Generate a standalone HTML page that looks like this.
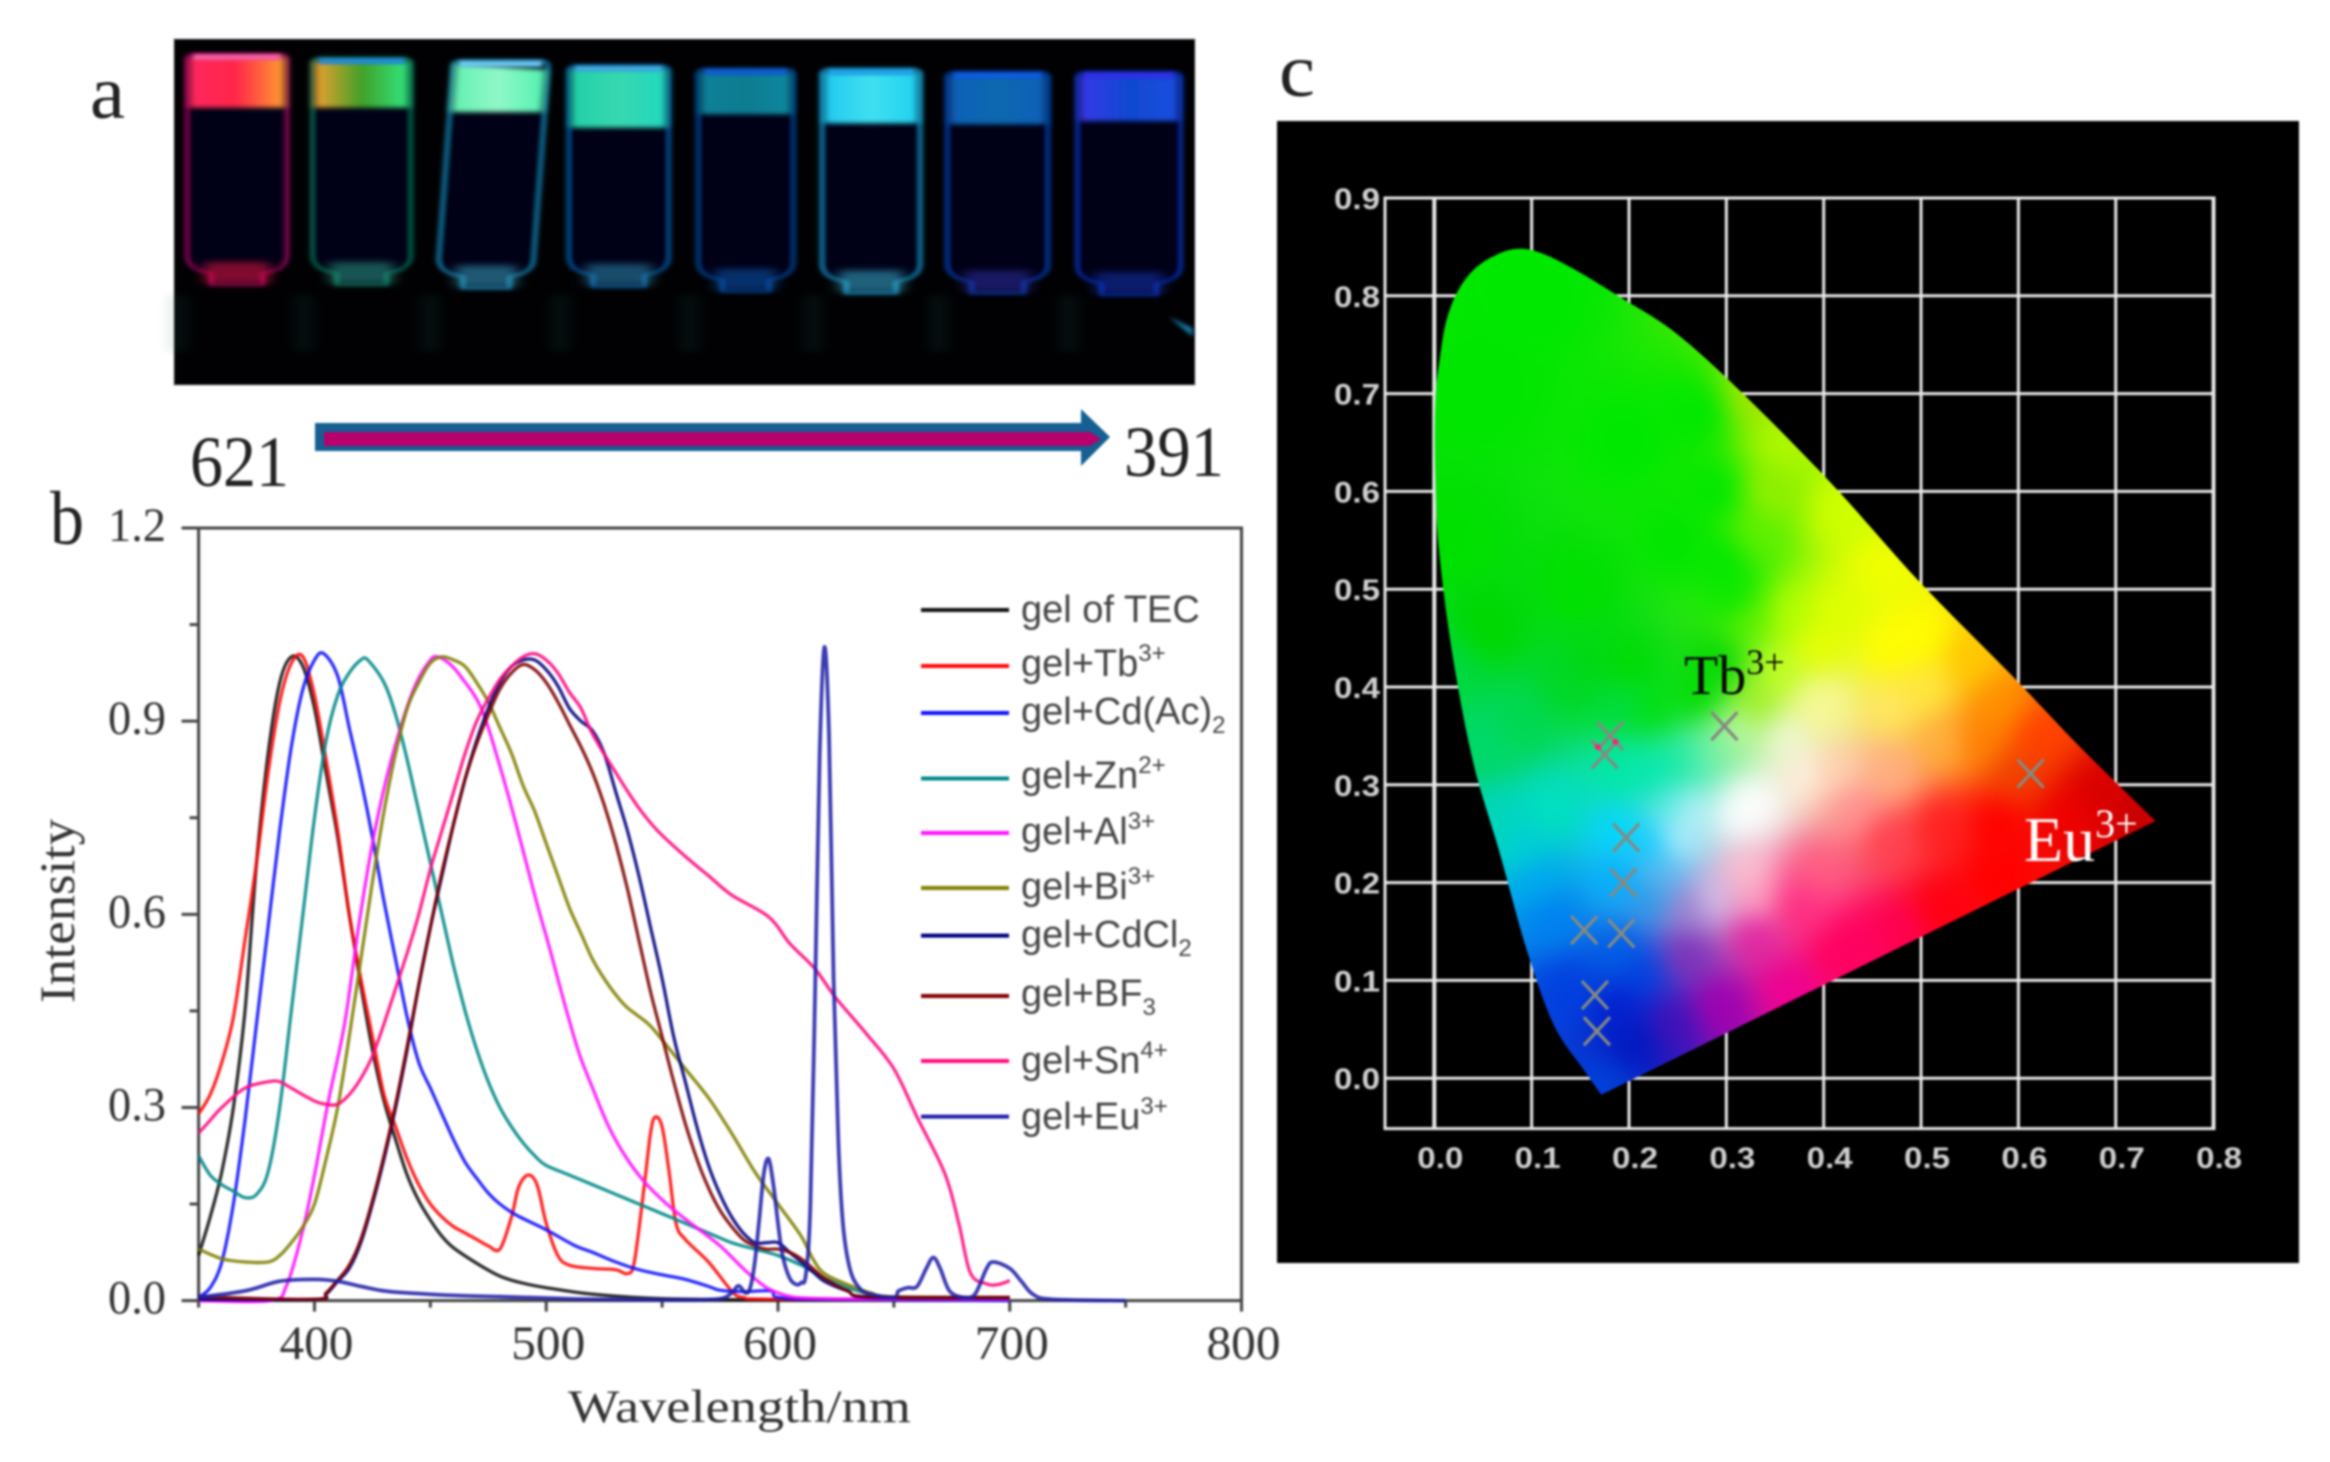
<!DOCTYPE html>
<html><head><meta charset="utf-8"><title>Gel luminescence figure</title>
<style>
html,body{margin:0;padding:0;background:#fff;width:2330px;height:1462px;overflow:hidden}
svg{display:block;filter:blur(1px)}
.ti{font-family:"Liberation Serif",serif}
.sa{font-family:"Liberation Sans",sans-serif}
canvas{display:block;width:820px;height:960px;filter:blur(9px)}
</style></head>
<body>
<svg id="fig" xmlns="http://www.w3.org/2000/svg" width="2330" height="1462" viewBox="0 0 2330 1462">
<defs>
<filter id="b2" x="-30%" y="-30%" width="160%" height="160%"><feGaussianBlur stdDeviation="3 5"/></filter>
<filter id="b4" x="-30%" y="-30%" width="160%" height="160%"><feGaussianBlur stdDeviation="5 7"/></filter>
<filter id="b6" x="-50%" y="-50%" width="200%" height="200%"><feGaussianBlur stdDeviation="8 10"/></filter>
<clipPath id="gamutClip"><path id="gamutPath" d="M0 0"/></clipPath>
</defs>

<rect width="2330" height="1462" fill="#fff"/>

<!-- PANEL A -->
<text class="ti" x="90" y="118" font-size="76" fill="#222" textLength="35" lengthAdjust="spacingAndGlyphs">a</text>
<rect x="174" y="39" width="1021" height="346" fill="#010103" stroke="#999" stroke-width="1"/>
<g id="vials" transform="scale(0.8036 0.3317)"></g>
<text class="ti" x="190" y="486" font-size="72" fill="#222" textLength="99" lengthAdjust="spacingAndGlyphs">621</text>
<polygon points="315,423 1081,423 1081,409 1110,437 1081,466 1081,451 315,451" fill="#155f92"/>
<polygon points="324,432 1090,432 1101,439 1090,446 324,446" fill="#b8006c"/>
<text class="ti" x="1124" y="476" font-size="72" fill="#222" textLength="100" lengthAdjust="spacingAndGlyphs">391</text>

<!-- PANEL B -->
<text class="ti" x="50" y="544" font-size="76" fill="#222" textLength="34" lengthAdjust="spacingAndGlyphs">b</text>
<g id="plotB"></g>
<text class="ti" transform="translate(74 1003) rotate(-90)" font-size="50" fill="#333" textLength="184" lengthAdjust="spacingAndGlyphs">Intensity</text>
<text class="ti" x="568" y="1422" font-size="47" fill="#333" textLength="343" lengthAdjust="spacingAndGlyphs">Wavelength/nm</text>

<g id="legend" class="sa" font-size="38" fill="#444">
<text x="1021" y="622">gel of TEC</text>
<text x="1021" y="676">gel+Tb<tspan dy="-15" font-size="24">3+</tspan></text>
<text x="1021" y="724">gel+Cd(Ac)<tspan dy="9" font-size="24">2</tspan></text>
<text x="1021" y="788">gel+Zn<tspan dy="-15" font-size="24">2+</tspan></text>
<text x="1021" y="844">gel+Al<tspan dy="-15" font-size="24">3+</tspan></text>
<text x="1021" y="899">gel+Bi<tspan dy="-15" font-size="24">3+</tspan></text>
<text x="1021" y="947">gel+CdCl<tspan dy="9" font-size="24">2</tspan></text>
<text x="1021" y="1006">gel+BF<tspan dy="9" font-size="24">3</tspan></text>
<text x="1021" y="1073">gel+Sn<tspan dy="-15" font-size="24">4+</tspan></text>
<text x="1021" y="1129">gel+Eu<tspan dy="-15" font-size="24">3+</tspan></text>
</g>

<!-- PANEL C -->
<text class="ti" x="1279" y="96" font-size="76" fill="#222" textLength="36" lengthAdjust="spacingAndGlyphs">c</text>
<rect x="1277" y="121" width="1022" height="1142" fill="#000"/>
<g id="cieGrid"></g>
<g clip-path="url(#gamutClip)">
 <foreignObject x="1385" y="180" width="820" height="960">
  <canvas id="cieField" xmlns="http://www.w3.org/1999/xhtml" width="410" height="480"></canvas>
 </foreignObject>
</g>
<g id="cieMarks"></g>
<text class="ti" x="1684" y="694" font-size="56" fill="#0a0a0a">Tb<tspan dy="-20" font-size="36">3+</tspan></text>
<text class="ti" x="2024" y="861" font-size="64" fill="#fff">Eu<tspan dy="-24" font-size="40">3+</tspan></text>
</svg>

<script>
// ---- Panel b data ----
const tecWl=[350,355,360,365,370,375,380,385,390,395,400,405,410,415,420,425,430,435,440,445,450,455,460,470,480,490,500,520,550,600,700];
const tecVal=[.07,.13,.2,.3,.45,.68,.85,.96,1,.985,.92,.82,.72,.6,.49,.39,.31,.25,.195,.155,.125,.1,.082,.058,.038,.027,.02,.01,.003,.001,.001];
const tbWl=[350,355,360,365,370,375,380,385,390,395,400,405,410,415,420,425,430,435,440,445,450,455,460,465,470,475,480,485,488,492,496,500,505,510,520,530,535,538,542,545,547,550,553,556,560,570,580,585,600,700];
const tbVal=[.29,.32,.37,.44,.56,.68,.82,.93,.99,1,.94,.84,.73,.6,.5,.41,.32,.27,.22,.18,.15,.13,.115,.105,.095,.085,.08,.13,.175,.195,.18,.12,.07,.055,.05,.048,.042,.06,.17,.26,.285,.27,.2,.12,.095,.06,.015,.005,.002,.002];
const cdacWl=[350,355,360,365,370,375,380,385,390,395,400,404,410,415,420,425,430,435,440,445,450,455,460,465,470,475,480,487,500,512,520,530,540,550,560,570,575,585,597,600,620,700];
const cdacVal=[.005,.02,.06,.15,.28,.43,.58,.73,.86,.95,.995,1.005,.97,.89,.81,.72,.62,.53,.44,.37,.33,.29,.25,.215,.19,.167,.15,.133,.11,.086,.075,.06,.048,.04,.033,.022,.016,.014,.015,.005,.002,0];
const znWl=[350,355,360,365,370,375,380,385,390,395,400,405,410,415,420,423,430,435,440,445,450,455,460,465,470,475,480,485,490,495,500,510,520,530,540,550,560,570,580,590,600,610,620,630,640,650,700];
const znVal=[.225,.195,.18,.17,.16,.165,.2,.3,.45,.6,.75,.87,.94,.975,.995,.995,.96,.91,.84,.76,.68,.6,.52,.45,.39,.34,.3,.27,.245,.225,.21,.195,.18,.165,.15,.135,.12,.105,.09,.08,.07,.055,.035,.02,.01,.005,.002];
const alWl=[350,381,388,395,400,406,413,419,425,431,438,444,450,453,458,463,472,480,487,495,502,508,514,520,527,534,542,552,561,575,588,600,620,700];
const alVal=[0,0,.024,.11,.195,.31,.43,.58,.71,.81,.9,.96,.995,1,.99,.97,.92,.83,.74,.63,.54,.46,.386,.33,.27,.225,.186,.15,.124,.085,.04,.012,.003,.002];
const biWl=[350,360,370,380,385,390,395,400,405,410,415,420,425,430,435,440,445,450,455,460,465,470,475,480,485,490,495,500,505,510,515,520,525,530,535,544,550,560,570,580,590,600,610,615,620,630,640,650,700];
const biVal=[.08,.065,.06,.06,.07,.09,.115,.15,.22,.3,.41,.53,.65,.76,.85,.92,.96,.99,1,.995,.985,.96,.93,.89,.85,.8,.76,.71,.66,.61,.57,.53,.5,.475,.455,.43,.405,.36,.315,.26,.2,.15,.1,.065,.042,.025,.012,.006,.005];
const cdclWl=[350,400,405,410,415,420,425,430,435,440,445,450,455,460,465,470,475,480,485,490,495,500,505,510,515,520,525,530,535,540,545,550,555,560,565,570,575,580,585,590,595,600,605,610,615,620,630,640,700];
const cdclVal=[.002,.002,.01,.03,.05,.09,.15,.22,.3,.39,.49,.58,.66,.74,.81,.87,.92,.96,.985,.995,.995,.98,.955,.92,.9,.885,.85,.79,.73,.66,.58,.5,.41,.34,.27,.21,.165,.13,.105,.09,.09,.09,.075,.06,.045,.03,.015,.005,.004];
const bfWl=[350,400,405,410,415,420,425,430,435,440,445,450,455,460,465,470,475,480,485,490,495,500,505,510,515,520,525,530,535,540,545,550,555,560,565,570,575,580,585,590,595,600,605,610,615,620,630,640,700];
const bfVal=[.006,.002,.012,.032,.055,.095,.155,.225,.305,.395,.49,.58,.665,.74,.81,.865,.91,.95,.975,.988,.98,.96,.93,.895,.86,.82,.77,.71,.64,.56,.48,.41,.34,.275,.22,.175,.14,.115,.095,.085,.08,.08,.075,.065,.05,.035,.015,.006,.005];
const snWl=[350,355,360,370,380,385,390,400,405,410,415,420,425,430,440,445,450,455,460,465,470,475,480,485,490,495,500,505,510,515,520,530,540,548,560,570,580,596,605,616,625,638,650,660,672,678,683,690,695,700];
const snVal=[.26,.28,.3,.33,.34,.34,.33,.31,.305,.305,.32,.345,.38,.43,.54,.6,.67,.73,.79,.85,.9,.935,.965,.985,1,1.005,.995,.975,.945,.92,.88,.82,.765,.73,.69,.66,.63,.596,.555,.515,.47,.415,.36,.285,.197,.12,.043,.026,.025,.031];
const euWl=[350,370,385,400,410,420,430,440,460,480,500,520,560,575,580,583,586,588,590,592,594,596,598,600,602,605,608,610,612,614,616,618,620,622,624,626,628,631,635,640,650,652,656,660,664,667,670,674,680,685,690,693,700,705,710,718,750];
const euVal=[.005,.015,.03,.033,.03,.022,.015,.012,.008,.006,.004,.002,.001,.003,.012,.023,.012,.02,.06,.13,.2,.22,.18,.12,.07,.035,.025,.028,.04,.15,.48,.85,1.015,.88,.5,.25,.12,.05,.02,.01,.005,.015,.02,.022,.05,.067,.05,.015,.005,.01,.05,.06,.05,.03,.01,.002,0];
const seriesNames=['tec','tb','cdac','zn','al','bi','cdcl','bf','sn','eu'];
const seriesColors=['#111','#ff0808','#1010ff','#008888','#ff10ff','#808000','#000080','#800000','#ff0a80','#2020a8'];
const xTicks=[400,500,600,700,800];
const xMinor=[350,450,550,650,750];
const yTicks=[0,0.3,0.6,0.9,1.2];
const yMinor=[0.15,0.45,0.75,1.05];
const legendRows=[610,666,713,778.5,833,888,935.6,996,1061,1116.6];
// ---- Panel c data ----
const gamutX=[.1715,.154,.123,.095,.067,.04,.019,.005,.001,.001,.006,.013,.026,.043,.064,.085,.109,.144,.192,.248,.317,.408,.498,.595,.665,.741];
const gamutY=[-.017,.008,.054,.131,.231,.323,.431,.538,.615,.692,.738,.777,.808,.829,.842,.848,.844,.827,.798,.762,.70,.608,.508,.41,.337,.263];
const cieXTicks=[0,.1,.2,.3,.4,.5,.6,.7,.8];
const cieYTicks=[0,.1,.2,.3,.4,.5,.6,.7,.8,.9];
const pointX=[.1806,.175,.298,.6125,.197,.194,.154,.192,.165,.167];
const pointY=[.35,.331,.36,.3115,.246,.2,.1515,.148,.085,.048];
const dotX=[.168,.186];
const dotY=[.3386,.344];
const gamutColors=[
[.05,.7,'#00e600'],[.1,.8,'#00e800'],[.2,.65,'#00e800'],[.25,.55,'#00e600'],[.15,.5,'#00e000'],[.054,.457,'#00d800'],[.02,.55,'#00e000'],
[.27,.68,'#00e800'],[.29,.6,'#00e800'],[.3,.53,'#00e800'],[.312,.493,'#00e800'],[.29,.42,'#00d800'],[.27,.39,'#00dc00'],
[.2,.42,'#00dc00'],[.157,.42,'#00d810'],[.14,.406,'#00d828'],[.088,.366,'#00d850'],[.054,.347,'#00d868'],[.02,.42,'#00d840'],
[.191,.384,'#00dc40'],[.225,.377,'#00e010'],[.191,.311,'#00e8a8'],[.225,.311,'#00e8b0'],[.253,.322,'#00e8a0'],[.266,.325,'#60f0b0'],[.122,.274,'#00e0c0'],[.065,.25,'#00d8b8'],
[.191,.252,'#00d8ff'],[.225,.238,'#00c8ff'],[.088,.238,'#00d0d8'],[.105,.201,'#00a8f0'],[.191,.201,'#00b0ff'],[.218,.183,'#3098e8'],
[.122,.165,'#0080f0'],[.191,.128,'#0060e8'],[.14,.092,'#0040e0'],[.191,.073,'#0020d0'],[.208,.037,'#0018c0'],[.171,-.011,'#0040d8'],[.21,.107,'#0040e0'],
[.243,.055,'#4010b8'],[.294,.073,'#a000b0'],[.363,.092,'#f00090'],[.414,.128,'#ff0060'],[.26,.128,'#8030b8'],[.329,.146,'#e020a0'],[.379,.183,'#ff4090'],[.329,.183,'#ffa0c0'],[.288,.183,'#d8c0e8'],[.26,.172,'#a080d0'],
[.23,.21,'#60b8f0'],[.248,.244,'#c0f0ff'],[.26,.275,'#d8f4ff'],[.248,.28,'#40e8e0'],[.314,.271,'#ffffff'],[.329,.282,'#ffffff'],[.379,.311,'#fff0e0'],[.363,.347,'#f0f8d8'],[.312,.354,'#c0f8a0'],[.295,.339,'#80f0a0'],[.329,.384,'#a0f020'],[.397,.384,'#f8f890'],
[.329,.475,'#60f000'],[.363,.475,'#b8ff00'],[.414,.475,'#e0ff00'],[.33,.554,'#60f000'],[.345,.6,'#90f000'],[.33,.7,'#a0e800'],[.36,.65,'#b0f800'],[.42,.58,'#d0ff00'],[.46,.52,'#f0ff00'],
[.358,.414,'#c0ff20'],[.394,.438,'#e8ff00'],[.468,.438,'#ffff00'],[.5,.45,'#ffff00'],[.394,.38,'#f8f8a0'],[.468,.38,'#ffe860'],[.505,.397,'#ffe840'],[.55,.43,'#ffc800'],
[.523,.346,'#ffb040'],[.56,.346,'#ff8000'],[.58,.38,'#ff9000'],[.62,.35,'#ff4000'],[.6,.31,'#f04000'],[.68,.29,'#d80000'],[.73,.265,'#c80000'],[.65,.27,'#f00000'],
[.468,.312,'#ffb080'],[.431,.277,'#ff9090'],[.413,.312,'#ffd0b0'],[.468,.244,'#ff4050'],[.522,.257,'#ff2020'],[.578,.26,'#ff0000'],[.578,.21,'#ff0000'],[.522,.175,'#ff0010'],[.475,.152,'#ff0050'],
[.431,.141,'#ff0060'],[.376,.175,'#ff2078'],[.321,.21,'#ffc0d0'],[.394,.21,'#ff6080']];

// axis functions
const xB=v=>198.6+(v-350)*2.3176;
const yB=v=>1300.6-v*643.8;
const xC=v=>1434.3+v*973.5;
const yC=v=>1078.2-v*978;
const NS='http://www.w3.org/2000/svg';
function mk(tag,attrs,parent){const e=document.createElementNS(NS,tag);for(const k in attrs)e.setAttribute(k,attrs[k]);parent.appendChild(e);return e;}

function smoothPts(p){
  let d='M'+p[0][0].toFixed(1)+' '+p[0][1].toFixed(1);
  for(let i=0;i<p.length-1;i++){
    const a=p[Math.max(i-1,0)],b=p[i],c=p[i+1],e=p[Math.min(i+2,p.length-1)];
    const c1=[b[0]+(c[0]-a[0])/6,b[1]+(c[1]-a[1])/6],c2=[c[0]-(e[0]-b[0])/6,c[1]-(e[1]-b[1])/6];
    d+='C'+c1[0].toFixed(1)+' '+c1[1].toFixed(1)+' '+c2[0].toFixed(1)+' '+c2[1].toFixed(1)+' '+c[0].toFixed(1)+' '+c[1].toFixed(1);
  }
  return d;
}
const smooth=(wl,val)=>smoothPts(wl.map((w,i)=>[xB(w),yB(val[i])]));

// Panel b
const plotB=document.getElementById('plotB');
const frame=mk('rect',{x:xB(350),y:yB(1.2),width:xB(800)-xB(350),height:yB(0)-yB(1.2),fill:'none',stroke:'#444','stroke-width':3},plotB);


xTicks.forEach(t=>{
  const l=mk('line',{x1:xB(t),x2:xB(t),y1:yB(0),y2:yB(0)+11,stroke:'#444','stroke-width':3},plotB);
  
  
  const s=mk('text',{x:xB(t)+2,y:1359,'text-anchor':'middle','font-size':48,fill:'#333',class:'ti',textLength:74,lengthAdjust:'spacingAndGlyphs'},plotB);
  s.textContent=String(t);
  
  
});
xMinor.forEach(t=>{
  const l=mk('line',{x1:xB(t),x2:xB(t),y1:yB(0),y2:yB(0)+7,stroke:'#444','stroke-width':3},plotB);
  
  
});
yTicks.forEach(t=>{
  const l=mk('line',{x1:xB(350)-17,x2:xB(350),y1:yB(t),y2:yB(t),stroke:'#444','stroke-width':3},plotB);
  
  
  const s=mk('text',{x:108,y:yB(t)+13,'font-size':48,fill:'#333',class:'ti',textLength:58,lengthAdjust:'spacingAndGlyphs'},plotB);
  s.textContent=t.toFixed(1);
  
  
});
yMinor.forEach(t=>{
  const l=mk('line',{x1:xB(350)-9,x2:xB(350),y1:yB(t),y2:yB(t),stroke:'#444','stroke-width':3},plotB);
  
  
});
const seriesWl=[tecWl,tbWl,cdacWl,znWl,alWl,biWl,cdclWl,bfWl,snWl,euWl];
const seriesVal=[tecVal,tbVal,cdacVal,znVal,alVal,biVal,cdclVal,bfVal,snVal,euVal];
seriesNames.forEach((n,i)=>{
  const p=mk('path',{d:smooth(seriesWl[i],seriesVal[i]),fill:'none',stroke:seriesColors[i],'stroke-width':n==='eu'?3.8:3.3,'stroke-linejoin':'round','stroke-opacity':.88},plotB);
  
  
  const k=mk('line',{x1:921,x2:1009,y1:legendRows[i],y2:legendRows[i],stroke:seriesColors[i],'stroke-width':4},plotB);
  
  
});

// Panel c
document.getElementById('gamutPath').setAttribute('d',smoothPts(gamutX.map((x,i)=>[xC(x),yC(gamutY[i])]))+'Z');
const grid=document.getElementById('cieGrid');
const gx0=1385,gx1=2214,gy0=198,gy1=1128.6;
cieXTicks.forEach(t=>{
  const l=mk('line',{x1:xC(t),x2:xC(t),y1:gy0,y2:gy1,stroke:'#e8e8e8','stroke-width':t===0?4:3},grid);
  
  
  const s=mk('text',{x:xC(t)+6,y:1168,'text-anchor':'middle','font-size':30,'font-weight':'bold',fill:'#d0d0d0',class:'sa',textLength:46,lengthAdjust:'spacingAndGlyphs'},grid);
  s.textContent=t.toFixed(1);
  
  
});
cieYTicks.forEach(t=>{
  const l=mk('line',{x1:gx0,x2:gx1,y1:yC(t),y2:yC(t),stroke:'#e8e8e8','stroke-width':3},grid);
  
  
  const s=mk('text',{x:1334,y:yC(t)+11,'font-size':30,'font-weight':'bold',fill:'#d0d0d0',class:'sa',textLength:46,lengthAdjust:'spacingAndGlyphs'},grid);
  s.textContent=t.toFixed(1);
  
  
});
const gl=mk('rect',{x:gx0,y:gy0,width:gx1-gx0,height:gy1-gy0,fill:'none',stroke:'#e8e8e8','stroke-width':3},grid);



// colour field of the gamut: smooth blend between colours sampled at chromaticity positions
(function(){
  const c=document.getElementById('cieField'),ctx=c.getContext('2d');
  const W=c.width,H=c.height,img=ctx.createImageData(W,H);
  const a=gamutColors.map(r=>[r[0],r[1],parseInt(r[2].slice(1,3),16),parseInt(r[2].slice(3,5),16),parseInt(r[2].slice(5,7),16)]);
  for(let j=0;j<H;j++)for(let i=0;i<W;i++){
    const px=1385+(i+.5)*2,py=180+(j+.5)*2;
    const x=(px-1434.3)/973.5,y=(1078.2-py)/978;
    let sw=0,r=0,g=0,b=0;
    for(let k=0;k<a.length;k++){
      const dx=x-a[k][0],dy=y-a[k][1],d2=dx*dx+dy*dy+4e-4;
      const w=1/(d2*d2);
      sw+=w;r+=w*a[k][2];g+=w*a[k][3];b+=w*a[k][4];
    }
    const o=(j*W+i)*4;
    img.data[o]=r/sw;img.data[o+1]=g/sw;img.data[o+2]=b/sw;img.data[o+3]=255;
  }
  ctx.putImageData(img,0,0);
})();

const marks=document.getElementById('cieMarks');
pointX.forEach((x,i)=>{
  const cx=xC(x),cy=yC(pointY[i]);
  const m=mk('path',{d:`M${cx-13} ${cy-14}L${cx+13} ${cy+14}M${cx+13} ${cy-14}L${cx-13} ${cy+14}`,stroke:'#858a82','stroke-width':3.2,fill:'none'},marks);
  
  
});
dotX.forEach((x,i)=>{
  const d=mk('circle',{cx:xC(x),cy:yC(dotY[i]),r:3,fill:'#ff2080'},marks);
  
  
});

// Panel a vial photo (drawing coords are scaled by the group transform)
const vialLeft=[232,388,545,707,868,1022,1178,1340];
const vialRight=[358,512,665,833,988,1146,1305,1470];
const vialTilt=[0,0,18,0,0,0,0,0];
const vialTop=[160,172,180,195,205,205,215,215];
const vialGlow=[325,325,338,385,345,372,375,365];
const vialBottom=[860,860,870,865,880,885,885,890];
const vialBand=['#ff60a8','#2090e0','#70d0ff','#40b0e8','#1060d8','#20a8f0','#0860e8','#3030f0'];
const vialGlowL=['#ff2860','#f0a030','#60f0b0','#20d0a8','#108098','#20c8f0','#0a60b8','#3838e8'];
const vialGlowC=['#ff2848','#40a028','#90f8c8','#38d8b0','#107c90','#40e0f0','#0a68b0','#1048d0'];
const vialGlowR=['#ffa030','#30e880','#50f0b0','#20d8c0','#1088a0','#20d0f0','#0a60b8','#1850e0'];
const vialEdge=['#901060','#0c6c58','#1880b0','#0c5aa8','#0a4498','#1688c0','#0840b0','#1030b8'];
const vialNeck=['#ff1848','#30a890','#40b0d0','#3098c0','#1060c0','#40c0e0','#3030b0','#1838c0'];
const vg=document.getElementById('vials');
const defs=document.querySelector('defs');
vialLeft.forEach((l,i)=>{
  const r=vialRight[i],t=vialTilt[i],top=vialTop[i],bot=vialBottom[i],gb=vialGlow[i];
  const body=`M${l+t} ${top+20}Q${l+t} ${top} ${l+t+15} ${top}L${r+t-15} ${top}Q${r+t} ${top} ${r+t} ${top+20}L${r} ${bot-90}Q${r} ${bot-45} ${r-30} ${bot-35}L${r-30} ${bot}L${l+30} ${bot}L${l+30} ${bot-35}Q${l} ${bot-45} ${l} ${bot-90}Z`;
  const v=mk('path',{d:body,fill:'#020214',stroke:vialEdge[i],'stroke-width':4,filter:'url(#b2)'},vg);
  
  
  const gr=mk('linearGradient',{id:'vg'+i},defs);
  mk('stop',{offset:0,'stop-color':vialGlowL[i]},gr);
  mk('stop',{offset:.5,'stop-color':vialGlowC[i]},gr);
  mk('stop',{offset:1,'stop-color':vialGlowR[i]},gr);
  const glowShift=t*(1-(gb-top)/(bot-90-top));
  const g=mk('polygon',{points:`${l+t+3},${top+12} ${r+t-3},${top+12+t} ${r+glowShift-3},${gb} ${l+glowShift+3},${gb}`,fill:`url(#vg${i})`,filter:'url(#b4)'},vg);
  
  
  const b=mk('rect',{x:l+t+8,y:top+3,width:r-l-16,height:18,fill:vialBand[i],filter:'url(#b2)'},vg);
  
  
  const n=mk('rect',{x:l+22,y:bot-70,width:r-l-44,height:66,fill:vialNeck[i],opacity:.5,filter:'url(#b6)'},vg);
  
  
  const rf=mk('rect',{x:l-22,y:890,width:24,height:170,fill:'#1a6a60',opacity:.12,filter:'url(#b6)'},vg);
  
  
});
const streak=mk('polygon',{points:'1455,955 1484,990 1484,1015',fill:'#1880b0',filter:'url(#b2)'},vg);


</script>
</body></html>
